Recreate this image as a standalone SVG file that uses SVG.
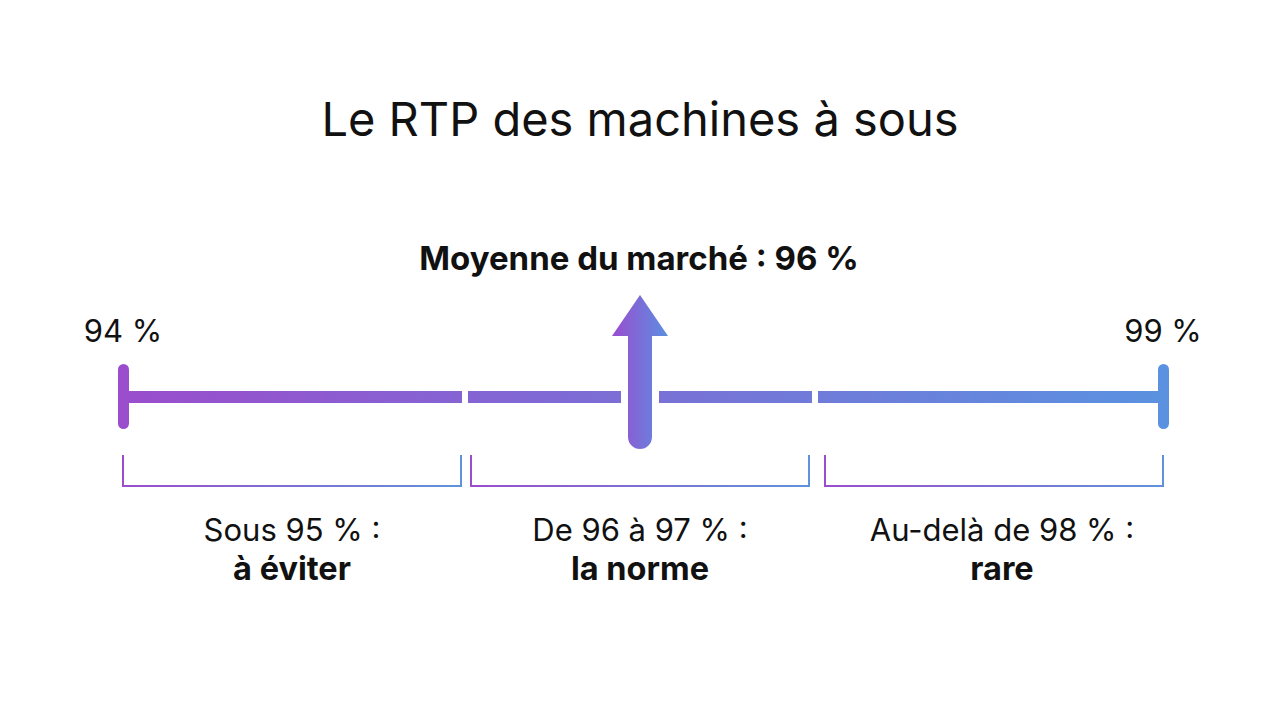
<svg xmlns="http://www.w3.org/2000/svg" width="1280" height="714" viewBox="0 0 1280 714">
<style>
text{font-family:Inter,"Noto Sans","Liberation Sans",sans-serif;fill:#111;text-anchor:middle}
.t{font-size:47px}
.h{font-size:33px;font-weight:700}
.p{font-size:31px}
.l{font-size:31px}
.b{font-size:32.5px;font-weight:700}
.br{fill:none;stroke-width:2}
</style>
<defs>
<linearGradient id="g" gradientUnits="userSpaceOnUse" x1="118" y1="0" x2="1169" y2="0">
<stop offset="0" stop-color="#9a4dcc"/><stop offset="1" stop-color="#5a92e0"/>
</linearGradient>
<linearGradient id="ga" x1="0" y1="0" x2="1" y2="0">
<stop offset="0" stop-color="#9a4dd0"/><stop offset="1" stop-color="#5b8fe0"/>
</linearGradient>
<linearGradient id="gb" x1="0" y1="0" x2="1" y2="0">
<stop offset="0" stop-color="#9a4dcc"/><stop offset="1" stop-color="#5f92dc"/>
</linearGradient>
</defs>
<rect width="1280" height="714" fill="#fff"/>
<g id="title"><text class="t" x="640" y="136">Le RTP des machines à sous</text></g>
<g id="scale">
<rect x="118" y="364" width="11" height="65" rx="5.5" fill="url(#g)"/>
<rect x="1158" y="364" width="11" height="65" rx="5.5" fill="url(#g)"/>
<rect x="123" y="391" width="339" height="12" fill="url(#g)"/>
<rect x="468" y="391" width="153" height="12" fill="url(#g)"/>
<rect x="659" y="391" width="153" height="12" fill="url(#g)"/>
<rect x="818" y="391" width="345" height="12" fill="url(#g)"/>
<text class="p" x="123" y="342">94 %</text>
<text class="p" x="1163" y="342">99 %</text>
</g>
<g id="market">
<text class="h" x="639" y="270">Moyenne du marché : 96 %</text>
<path d="M640 295 L668 336 L652 336 L652 437 A12 12 0 0 1 628 437 L628 336 L612 336 Z" fill="url(#ga)"/>
</g>
<g id="connectors">
<path class="br" d="M123 455 V486 H461 V455" stroke="url(#gb)"/>
<path class="br" d="M471 455 V486 H809 V455" stroke="url(#gb)"/>
<path class="br" d="M825 455 V486 H1163 V455" stroke="url(#gb)"/>
</g>
<g id="low"><text class="l" x="292" y="541">Sous 95 % :</text><text class="b" x="292" y="580">à éviter</text></g>
<g id="norm"><text class="l" x="640" y="541">De 96 à 97 % :</text><text class="b" x="640" y="580">la norme</text></g>
<g id="rare"><text class="l" x="1002" y="541">Au-delà de 98 % :</text><text class="b" x="1002" y="580">rare</text></g>
</svg>
